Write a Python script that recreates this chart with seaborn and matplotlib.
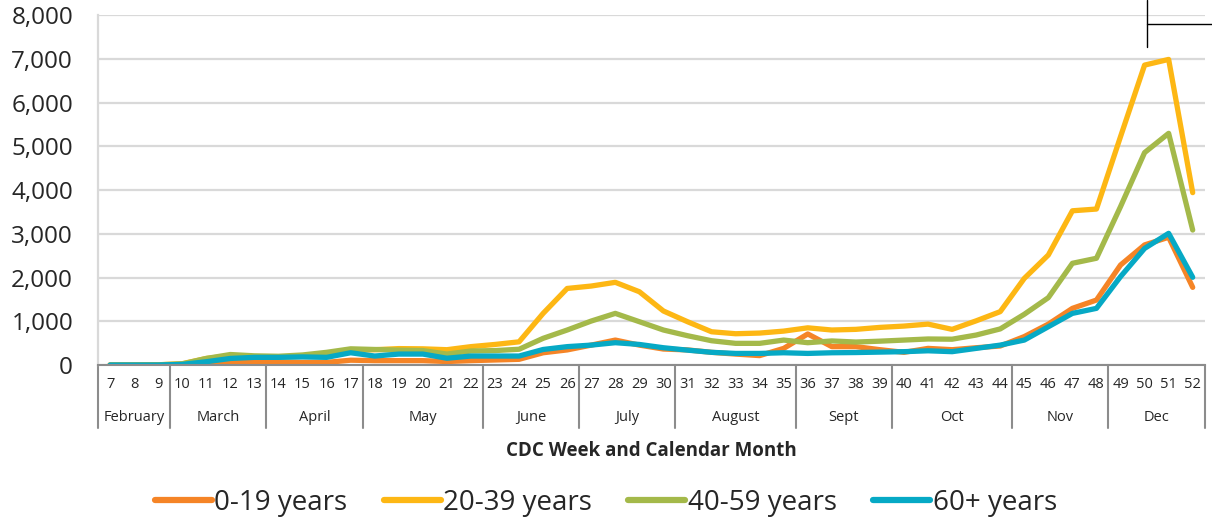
import seaborn as sns
import matplotlib.pyplot as plt
from matplotlib.lines import Line2D
import pandas as pd

weeks = list(range(7, 53))
months = ["February", "March", "April", "May", "June", "July", "August",
          "Sept", "Oct", "Nov", "Dec"]
month_weeks = [3, 4, 4, 5, 4, 4, 5, 4, 5, 4, 4]

age_0_19 = [0, 0, 0, 10, 20, 60, 75, 60, 60, 60, 110, 100, 100, 100, 80, 100,
            115, 130, 280, 345, 455, 570, 455, 365, 345, 290, 250, 215, 380, 710,
            420, 420, 350, 290, 380, 350, 395, 435, 650, 935, 1295, 1485, 2285,
            2745, 2920, 1775]
age_20_39 = [0, 0, 5, 30, 150, 210, 180, 180, 200, 230, 330, 350, 375, 370, 350,
             420, 470, 530, 1180, 1750, 1805, 1890, 1675, 1235, 990, 760, 715, 730,
             775, 850, 800, 815, 860, 890, 935, 815, 1010, 1220, 1980, 2515, 3525,
             3565, 5220, 6855, 6985, 3940]
age_40_59 = [0, 0, 5, 25, 150, 240, 210, 200, 230, 290, 370, 355, 340, 330, 250,
             320, 330, 360, 610, 800, 1005, 1180, 990, 800, 670, 555, 495, 495, 570,
             510, 550, 525, 545, 570, 595, 590, 685, 825, 1160, 1540, 2325, 2440,
             3620, 4855, 5295, 3085]
age_60 = [0, 0, 0, 15, 75, 150, 175, 175, 185, 175, 280, 205, 250, 250, 155, 205,
          205, 205, 355, 420, 455, 510, 470, 395, 340, 290, 265, 265, 280, 265, 280,
          285, 295, 305, 325, 305, 380, 455, 570, 875, 1180, 1295, 2020, 2665, 3010,
          2005]

series = {"0-19 years": age_0_19, "20-39 years": age_20_39,
          "40-59 years": age_40_59, "60+ years": age_60}
colors = ["#F58426", "#FDB714", "#A4B94A", "#06A9C5"]

rows = []
for name, vals in series.items():
    for i, v in enumerate(vals):
        rows.append({"pos": i, "cases": v, "group": name})
df = pd.DataFrame(rows)

sns.set_style("white")
plt.rcParams['font.family'] = ['Open Sans', 'DejaVu Sans']

fig = plt.figure(figsize=(12.12, 5.21), dpi=100)
ax = fig.add_axes([0.0809, 0.2994, 0.9131, 0.6718])

sns.lineplot(data=df, x="pos", y="cases", hue="group", palette=colors,
             linewidth=3.8, ax=ax, legend=False, sort=False,
             solid_capstyle="round", solid_joinstyle="round")

ax.set_xlim(-0.5, len(weeks) - 0.5)
ax.set_ylim(0, 8000)
ax.set_yticks(range(0, 8001, 1000))
ax.set_yticklabels([f"{v:,}" for v in range(0, 8001, 1000)], fontsize=17.5)
ax.yaxis.grid(True, color="#d9d9d9", linewidth=1.6)
ax.set_axisbelow(True)
for s in ["top", "right"]:
    ax.spines[s].set_visible(False)
ax.spines["left"].set_color("#d9d9d9")
ax.spines["left"].set_linewidth(1.6)
ax.spines["bottom"].set_color("#8c8c8c")
ax.spines["bottom"].set_linewidth(1.5)
ax.tick_params(axis="y", length=0, pad=18)
ax.set_xticks([])
ax.set_xlabel("")
ax.set_ylabel("")

# multi level category axis
trans = ax.get_xaxis_transform()
for i, w in enumerate(weeks):
    ax.text(i, -0.057, str(w), transform=trans, ha="center", va="center",
            fontsize=10.5, clip_on=False)
start = 0
bounds = [start]
for m, n in zip(months, month_weeks):
    mid = start + (n - 1) / 2
    ax.text(mid, -0.15, m, transform=trans, ha="center", va="center",
            fontsize=10.5, clip_on=False)
    start += n
    bounds.append(start)
for b in bounds:
    ax.add_line(Line2D([b - 0.5, b - 0.5], [0, -0.18], transform=trans,
                       color="#8c8c8c", linewidth=1.5, clip_on=False))

ax.text(0.5, -0.245, "CDC Week and Calendar Month", transform=ax.transAxes,
        ha="center", va="center", fontsize=13.5, fontweight="bold")

handles = [Line2D([], [], color=c, linewidth=4.5) for c in colors]
fig.legend(handles, list(series.keys()), loc="center", ncol=4,
           bbox_to_anchor=(0.5, 0.035), frameon=False, fontsize=20,
           handlelength=2.05, handletextpad=0.1, columnspacing=1.3)

# stray shape lines at the top right
fig.add_artist(Line2D([1147 / 1212, 1147 / 1212], [1, 1 - 47 / 521],
                      color="black", linewidth=1))
fig.add_artist(Line2D([1147 / 1212, 1], [1 - 24 / 521, 1 - 24 / 521],
                      color="black", linewidth=1))

fig.savefig("out.png", dpi=100)
